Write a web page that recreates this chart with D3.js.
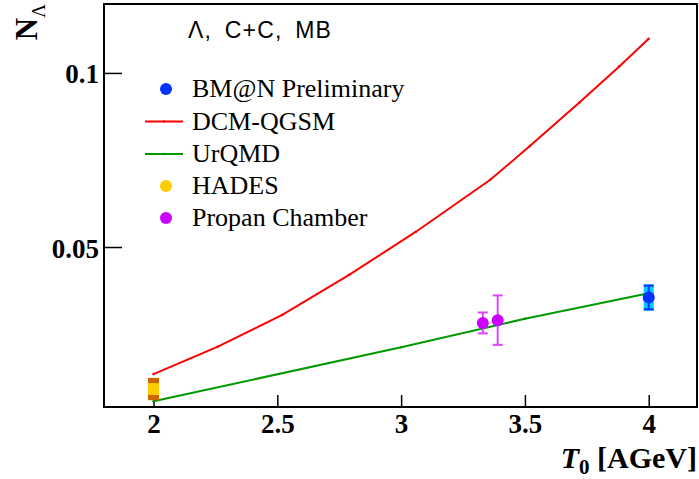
<!DOCTYPE html>
<html><head><meta charset="utf-8">
<script src="https://cdn.jsdelivr.net/npm/d3@7"></script>
<style>html,body{margin:0;padding:0;background:#fff;}svg{display:block;}</style>
</head><body>
<script>
// ---- data ----
const xTicks = [2, 2.5, 3, 3.5, 4];
const yTicks = [0.05, 0.1];
const dcmX = [2.0, 2.26, 2.52, 2.79, 3.06, 3.36, 3.52, 3.72, 3.88, 4.0];
const dcmY = [0.0135, 0.0214, 0.0305, 0.0420, 0.0544, 0.0693, 0.0790, 0.0915, 0.1018, 0.1098];
const urqmdX = [2.0, 3.0, 3.5, 4.0];
const urqmdY = [0.0057, 0.0212, 0.0294, 0.0367];
const bmnX = [4.0];
const bmnY = [0.0355];
const bmnStat = [0.0034];
const bmnSys = [0.0038];
const hadesX = [2.0];
const hadesY = [0.0092];
const hadesStat = [0.0017];
const hadesSys = [0.0032];
const propanX = [3.33, 3.39];
const propanY = [0.0282, 0.0290];
const propanErr = [0.0030, 0.0071];
const legendLabels = ["BM@N Preliminary", "DCM-QGSM", "UrQMD", "HADES", "Propan Chamber"];

const W = 699, H = 479;
const L = 104, R = 697, T = 4, B = 407;
const svg = d3.select("body").append("svg").attr("width", W).attr("height", H);
const x = d3.scaleLinear().domain([1.8, 4.195]).range([L, R]);
const y = d3.scaleLinear().domain([0.00405, 0.1198]).range([B, T]);

const serif = "'Liberation Serif','Times New Roman',serif";
const sans = "'Liberation Sans',Arial,sans-serif";

// frame
svg.append("rect").attr("x", L).attr("y", T).attr("width", R - L).attr("height", B - T)
  .attr("fill", "none").attr("stroke", "#000").attr("stroke-width", 2);

// axes with inward ticks
const xAxis = d3.axisBottom(x).tickValues(xTicks).tickSize(-12).tickPadding(0).tickFormat(d3.format("")); 
const gx = svg.append("g").attr("transform", `translate(0,${B})`).call(xAxis);
gx.select(".domain").remove();
gx.selectAll(".tick line").attr("stroke", "#000").attr("stroke-width", 1.5);
gx.selectAll(".tick text").attr("y", 26).attr("dy", 0).attr("font-family", serif).attr("font-weight", "bold")
  .attr("font-size", 27).attr("fill", "#000");

const yAxis = d3.axisLeft(y).tickValues(yTicks).tickSize(-18).tickPadding(0).tickFormat(d3.format(""));
const gy = svg.append("g").attr("transform", `translate(${L},0)`).call(yAxis);
gy.select(".domain").remove();
gy.selectAll(".tick line").attr("stroke", "#000").attr("stroke-width", 1.5);
gy.selectAll(".tick text").attr("x", -5).attr("dy", 10).attr("font-family", serif).attr("font-weight", "bold")
  .attr("font-size", 27).attr("fill", "#000").attr("text-anchor", "end");

// axis titles
const xt = svg.append("text").attr("x", R).attr("y", 468).attr("text-anchor", "end")
  .attr("font-family", serif).attr("font-weight", "bold").attr("font-size", 30).attr("fill", "#000");
xt.append("tspan").attr("font-style", "italic").text("T");
xt.append("tspan").attr("font-size", 21).attr("dy", 6).text("0");
xt.append("tspan").attr("dy", -6).text(" [AGeV]");

const yt = svg.append("text").attr("transform", "translate(37,4) rotate(-90)").attr("text-anchor", "end")
  .attr("font-family", serif).attr("font-weight", "bold").attr("font-size", 31).attr("fill", "#000");
yt.append("tspan").text("N");
yt.append("tspan").attr("font-size", 19).attr("font-weight", "normal").attr("dy", 8).text("Λ");

// lines
const line = d3.line().x(d => x(d[0])).y(d => y(d[1]));
const dcm = d3.zip(dcmX, dcmY);
const urq = d3.zip(urqmdX, urqmdY);
svg.append("path").attr("d", line(dcm)).attr("fill", "none").attr("stroke", "#ff0000").attr("stroke-width", 2);
svg.selectAll(".dcmm").data(dcm).enter().append("circle").attr("cx", d => x(d[0])).attr("cy", d => y(d[1]))
  .attr("r", 1.3).attr("fill", "#ff0000");
svg.append("path").attr("d", line(urq)).attr("fill", "none").attr("stroke", "#009900").attr("stroke-width", 2);
svg.selectAll(".urqm").data(urq).enter().append("circle").attr("cx", d => x(d[0])).attr("cy", d => y(d[1]))
  .attr("r", 1.3).attr("fill", "#009900");

// HADES
hadesX.forEach((xv, i) => {
  const cx = x(xv);
  svg.append("rect").attr("x", cx - 5.5).attr("width", 11).attr("y", y(hadesY[i] + hadesSys[i]))
    .attr("height", y(hadesY[i] - hadesSys[i]) - y(hadesY[i] + hadesSys[i])).attr("fill", "#cc6600");
  svg.append("rect").attr("x", cx - 5.5).attr("width", 11).attr("y", y(hadesY[i] + hadesStat[i]))
    .attr("height", y(hadesY[i] - hadesStat[i]) - y(hadesY[i] + hadesStat[i])).attr("fill", "#ffcc00");
  svg.append("circle").attr("cx", cx).attr("cy", y(hadesY[i])).attr("r", 5.5).attr("fill", "#ffcc00");
});

// BM@N
bmnX.forEach((xv, i) => {
  const cx = x(xv);
  svg.append("rect").attr("x", cx - 5).attr("width", 10).attr("y", y(bmnY[i] + bmnSys[i]))
    .attr("height", y(bmnY[i] - bmnSys[i]) - y(bmnY[i] + bmnSys[i])).attr("fill", "#00ccff");
  const g = svg.append("g").attr("stroke", "#0033ff").attr("stroke-width", 2);
  g.append("line").attr("x1", cx).attr("x2", cx).attr("y1", y(bmnY[i] + bmnStat[i])).attr("y2", y(bmnY[i] - bmnStat[i]));
  [bmnY[i] + bmnStat[i], bmnY[i] - bmnStat[i]].forEach(v => {
    g.append("line").attr("x1", cx - 5).attr("x2", cx + 5).attr("y1", y(v)).attr("y2", y(v));
  });
  svg.append("circle").attr("cx", cx).attr("cy", y(bmnY[i])).attr("r", 6).attr("fill", "#0033ff");
});

// Propan chamber
propanX.forEach((xv, i) => {
  const cx = x(xv);
  const g = svg.append("g").attr("stroke", "#dd44ff").attr("stroke-width", 2);
  g.append("line").attr("x1", cx).attr("x2", cx).attr("y1", y(propanY[i] + propanErr[i])).attr("y2", y(propanY[i] - propanErr[i]));
  [propanY[i] + propanErr[i], propanY[i] - propanErr[i]].forEach(v => {
    g.append("line").attr("x1", cx - 5).attr("x2", cx + 5).attr("y1", y(v)).attr("y2", y(v));
  });
  svg.append("circle").attr("cx", cx).attr("cy", y(propanY[i])).attr("r", 6).attr("fill", "#cc00ff");
});

// title text
svg.append("text").attr("x", 188).attr("y", 38).attr("font-family", sans).attr("font-size", 23)
  .attr("fill", "#000").attr("letter-spacing", 1.2).attr("word-spacing", 5).text("Λ, C+C, MB");

// legend
const legY = [89, 121.5, 154, 186, 218];
const legColors = ["#0033ff", "#ff0000", "#009900", "#ffcc00", "#cc00ff"];
const legType = ["dot", "line", "line", "dot", "dot"];
legendLabels.forEach((lab, i) => {
  const cy = legY[i];
  if (legType[i] === "dot") {
    svg.append("circle").attr("cx", 166).attr("cy", cy).attr("r", 6).attr("fill", legColors[i]);
  } else {
    svg.append("line").attr("x1", 145).attr("x2", 183).attr("y1", cy).attr("y2", cy)
      .attr("stroke", legColors[i]).attr("stroke-width", 2);
    svg.append("circle").attr("cx", 164).attr("cy", cy).attr("r", 1.3).attr("fill", legColors[i]);
  }
  svg.append("text").attr("x", 192).attr("y", cy + 8).attr("font-family", serif).attr("font-size", 26)
    .attr("fill", "#000").text(lab);
});
</script>
</body></html>
